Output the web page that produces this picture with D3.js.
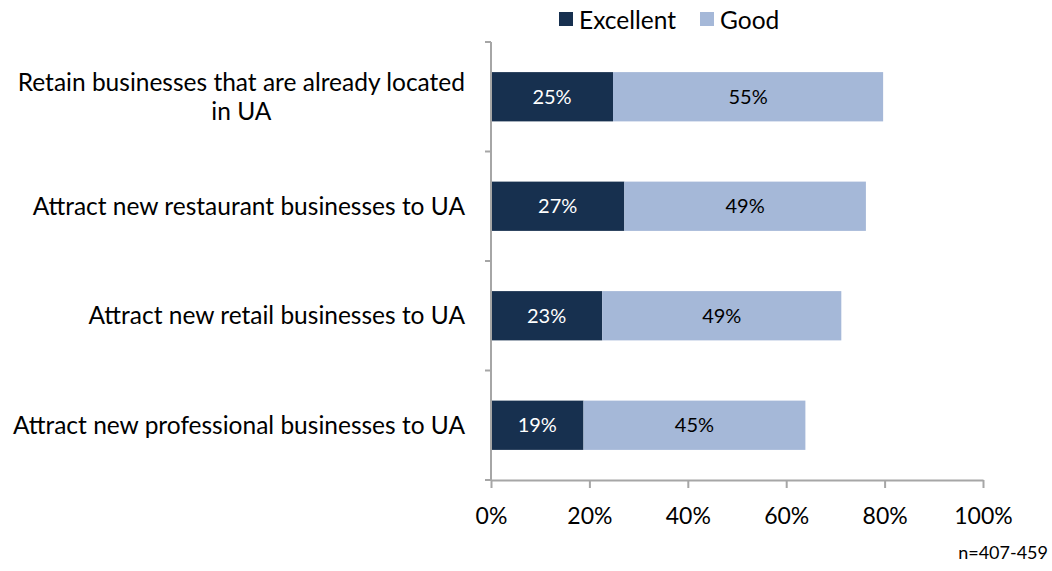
<!DOCTYPE html>
<html><head><meta charset="utf-8">
<script src="https://cdn.jsdelivr.net/npm/d3@7"></script>
<style>body{margin:0;background:#fff}svg{display:block}text{font-family:Lato,"Open Sans",sans-serif}</style>
</head><body><svg id="c" width="1052" height="571"></svg>
<script>
const categories = [
  ["Retain businesses that are already located", "in UA"],
  ["Attract new restaurant businesses to UA"],
  ["Attract new retail businesses to UA"],
  ["Attract new professional businesses to UA"]
];
const seriesNames = ["Excellent", "Good"];
const excellent = [24.8, 27.1, 22.6, 18.8];
const good = [54.9, 49.1, 48.6, 45.1];
const xTicks = [0, 20, 40, 60, 80, 100];
const colors = ["#17304f", "#a5b8d8"];
const note = "n=407-459";

const svg = d3.select("#c");
const x = d3.scaleLinear().domain([0, 100]).range([491, 983]);
const y = d3.scaleBand().domain(d3.range(categories.length)).range([42, 480]).paddingInner(0.55).paddingOuter(0.275);
const axisColor = "#a6a6a6";

// bars
const rows = categories.map((c, i) => ({i, e: excellent[i], g: good[i]}));
const gRows = svg.selectAll("g.row").data(rows).join("g");
gRows.append("rect").attr("x", x(0)).attr("y", d => y(d.i)).attr("width", d => x(d.e) - x(0)).attr("height", y.bandwidth()).attr("fill", colors[0]);
gRows.append("rect").attr("x", d => x(d.e)).attr("y", d => y(d.i)).attr("width", d => x(d.e + d.g) - x(d.e)).attr("height", y.bandwidth()).attr("fill", colors[1]);
gRows.append("text").attr("x", d => (x(0) + x(d.e)) / 2).attr("y", d => y(d.i) + y.bandwidth() / 2).attr("dy", "0.35em")
  .attr("text-anchor", "middle").attr("fill", "#fff").attr("font-size", 20).text(d => Math.round(d.e) + "%");
gRows.append("text").attr("x", d => (x(d.e) + x(d.e + d.g)) / 2).attr("y", d => y(d.i) + y.bandwidth() / 2).attr("dy", "0.35em")
  .attr("text-anchor", "middle").attr("fill", "#000").attr("font-size", 20).text(d => Math.round(d.g) + "%");

// y axis
const ya = svg.append("g");
ya.append("line").attr("x1", x(0)).attr("x2", x(0)).attr("y1", 42).attr("y2", 480).attr("stroke", axisColor).attr("stroke-width", 2);
const bounds = d3.range(categories.length + 1).map(i => 42 + i * (438 / categories.length));
ya.selectAll("line.t").data(bounds).join("line").attr("class", "t").attr("x1", x(0) - 6).attr("x2", x(0)).attr("y1", d => d).attr("y2", d => d).attr("stroke", axisColor).attr("stroke-width", 2);

// x axis
const xa = svg.append("g").attr("transform", "translate(0,480)")
  .call(d3.axisBottom(x).tickValues(xTicks).tickFormat(d => d + "%").tickSizeInner(8).tickSizeOuter(0).tickPadding(20));
xa.select(".domain").attr("stroke", axisColor).attr("stroke-width", 2);
xa.selectAll(".tick line").attr("stroke", axisColor).attr("stroke-width", 2);
xa.selectAll(".tick text").attr("font-size", 23).attr("fill", "#000").attr("font-family", "Lato");

// category labels
const right = 465;
categories.forEach((lines, i) => {
  const cy = y(i) + y.bandwidth() / 2;
  const lh = 29;
  const g = svg.append("g");
  const ts = lines.map((l, k) => g.append("text").attr("font-size", 24.5).attr("fill", "#000")
    .attr("y", cy + (k - (lines.length - 1) / 2) * lh).attr("dy", "0.35em").text(l));
  const w = d3.max(ts, t => t.node().getComputedTextLength());
  ts.forEach(t => t.attr("text-anchor", "middle").attr("x", right - w / 2));
});

// legend
const leg = svg.append("g");
const legItems = [{n: seriesNames[0], c: colors[0], x: 559}, {n: seriesNames[1], c: colors[1], x: 700}];
leg.selectAll("rect").data(legItems).join("rect").attr("x", d => d.x).attr("y", 12).attr("width", 14).attr("height", 14).attr("fill", d => d.c);
leg.selectAll("text").data(legItems).join("text").attr("x", d => d.x + 20).attr("y", 20).attr("dy", "0.35em").attr("font-size", 24.5).attr("fill", "#000").text(d => d.n);

svg.append("text").attr("x", 1048).attr("y", 559).attr("text-anchor", "end").attr("font-size", 18).attr("fill", "#000").text(note);
</script></body></html>
